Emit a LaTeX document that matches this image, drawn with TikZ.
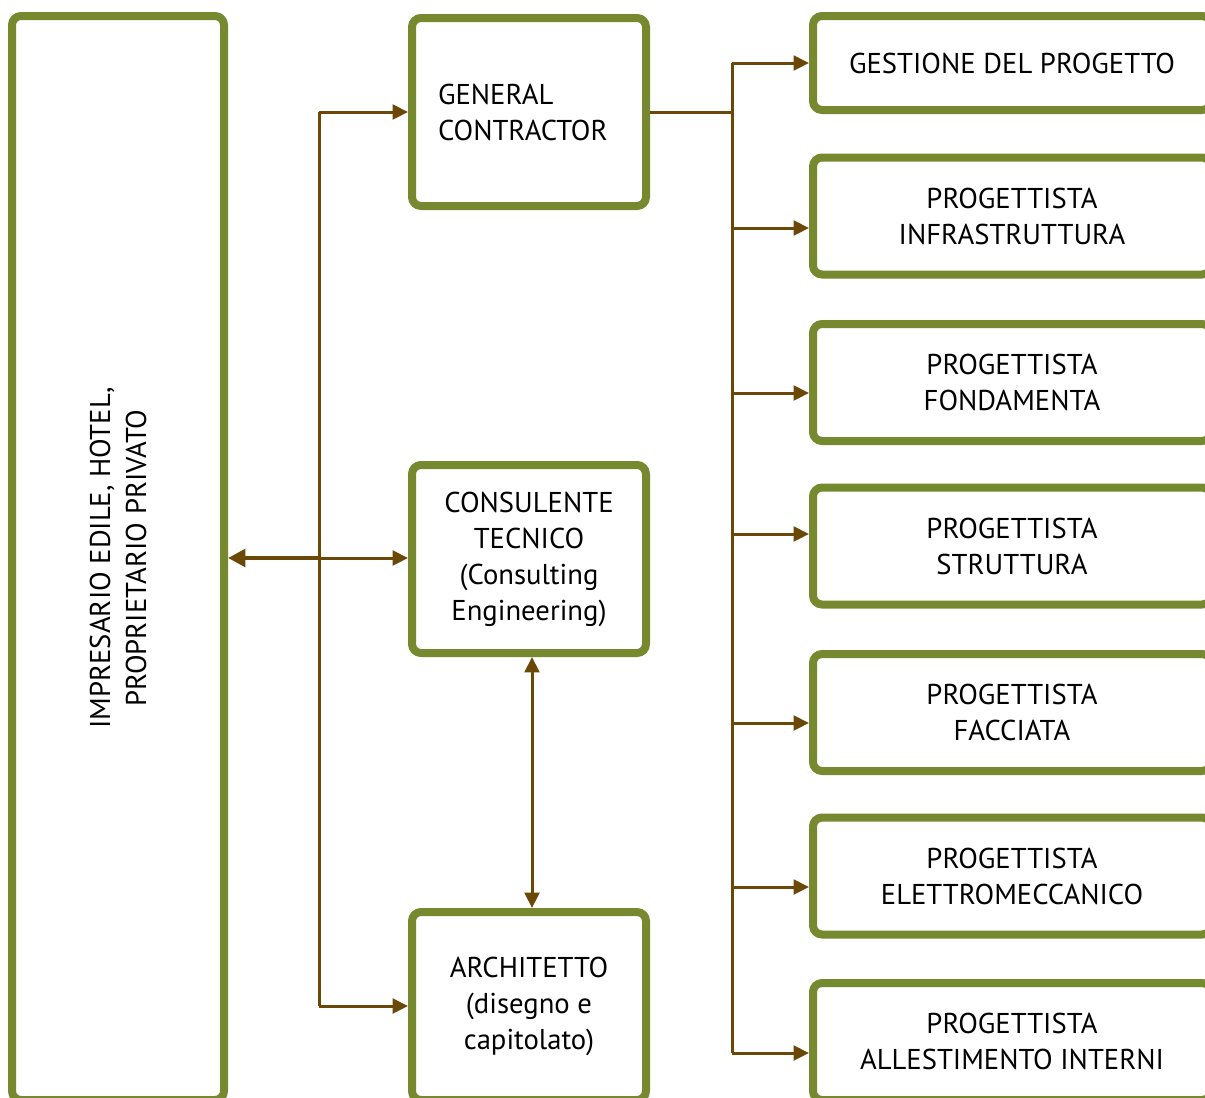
\documentclass[tikz,border=0pt]{standalone}
\usepackage{fontspec}
\setmainfont{PT Sans}
\usetikzlibrary{arrows.meta}
\definecolor{boxgreen}{RGB}{118,137,47}
\definecolor{connbrown}{RGB}{107,72,8}
\tikzset{
  box/.style={draw=boxgreen, line width=6pt, rounded corners=6.75pt, fill=white, inner sep=0pt},
  midbox/.style={box, minimum width=175.5pt, minimum height=141pt, align=center},
  rbox/.style={box, minimum width=298.5pt, minimum height=87.75pt, align=center},
  conn/.style={draw=connbrown, line width=2.25pt, -{Triangle[length=11.5pt,width=11pt]}},
  connboth/.style={draw=connbrown, line width=2.25pt, {Triangle[length=11.5pt,width=11pt]}-{Triangle[length=11.5pt,width=11pt]}},
  connthick/.style={draw=connbrown, line width=3.4pt, -{Triangle[length=13pt,width=13pt]}},
  line/.style={draw=connbrown, line width=2.25pt},
  txt/.style={font=\fontsize{21.5pt}{27pt}\selectfont}
}
\begin{document}
\begin{tikzpicture}[x=0.75pt,y=-0.75pt]
\useasboundingbox (0,0) rectangle (1205,1097);
\clip (0,0) rectangle (1205,1097);
% boxes
\node[box, minimum width=159pt, minimum height=813pt] (big) at (118,558) {};
\node[rotate=90, align=center, txt] (bigtxt) at (big.center) {IMPRESARIO EDILE, HOTEL,\\PROPRIETARIO PRIVATO};
\node[midbox, txt, align=left, text width=136.5pt] (gc) at (529,112) {GENERAL\\CONTRACTOR};
\node[midbox, txt] (cons) at (529,559) {CONSULENTE\\TECNICO\\(Consulting\\Engineering)};
\node[midbox, txt] (arch) at (529,1006) {ARCHITETTO\\(disegno e\\capitolato)};
\node[rbox, txt, minimum height=70.5pt] (r1) at (1012,63) {GESTIONE DEL PROGETTO};
\node[rbox, txt] (r2) at (1012,216) {PROGETTISTA\\INFRASTRUTTURA};
\node[rbox, txt] (r3) at (1012,382.5) {PROGETTISTA\\FONDAMENTA};
\node[rbox, txt] (r4) at (1012,546) {PROGETTISTA\\STRUTTURA};
\node[rbox, txt] (r5) at (1012,712.5) {PROGETTISTA\\FACCIATA};
\node[rbox, txt] (r6) at (1012,876) {PROGETTISTA\\ELETTROMECCANICO};
\node[rbox, txt] (r7) at (1012,1041.5) {PROGETTISTA\\ALLESTIMENTO INTERNI};
% left spine
\coordinate (sp) at (319,558);
\draw[line] (sp |- gc.west) -- (sp |- arch.west);
\draw[conn] (sp |- gc.west) -- (gc.west);
\draw[conn] (sp |- arch.west) -- (arch.west);
\draw[conn] (sp) -- (sp -| cons.west);
\draw[connthick] (sp) -- (big.east);
\draw[connboth] ([xshift=2.25pt]cons.south) -- ([xshift=2.25pt]arch.north);
% right spine
\coordinate (a1) at (732,63);
\coordinate (a2) at (732,228);
\coordinate (a3) at (732,393);
\coordinate (a4) at (732,534);
\coordinate (a5) at (732,723);
\coordinate (a6) at (732,887);
\coordinate (a7) at (732,1053);
\draw[line] (gc.east) -- (gc.east -| a1);
\draw[line] (a1) -- (a7);
\draw[conn] (a1) -- (a1 -| r1.west);
\draw[conn] (a2) -- (a2 -| r2.west);
\draw[conn] (a3) -- (a3 -| r3.west);
\draw[conn] (a4) -- (a4 -| r4.west);
\draw[conn] (a5) -- (a5 -| r5.west);
\draw[conn] (a6) -- (a6 -| r6.west);
\draw[conn] (a7) -- (a7 -| r7.west);
\end{tikzpicture}
\end{document}
